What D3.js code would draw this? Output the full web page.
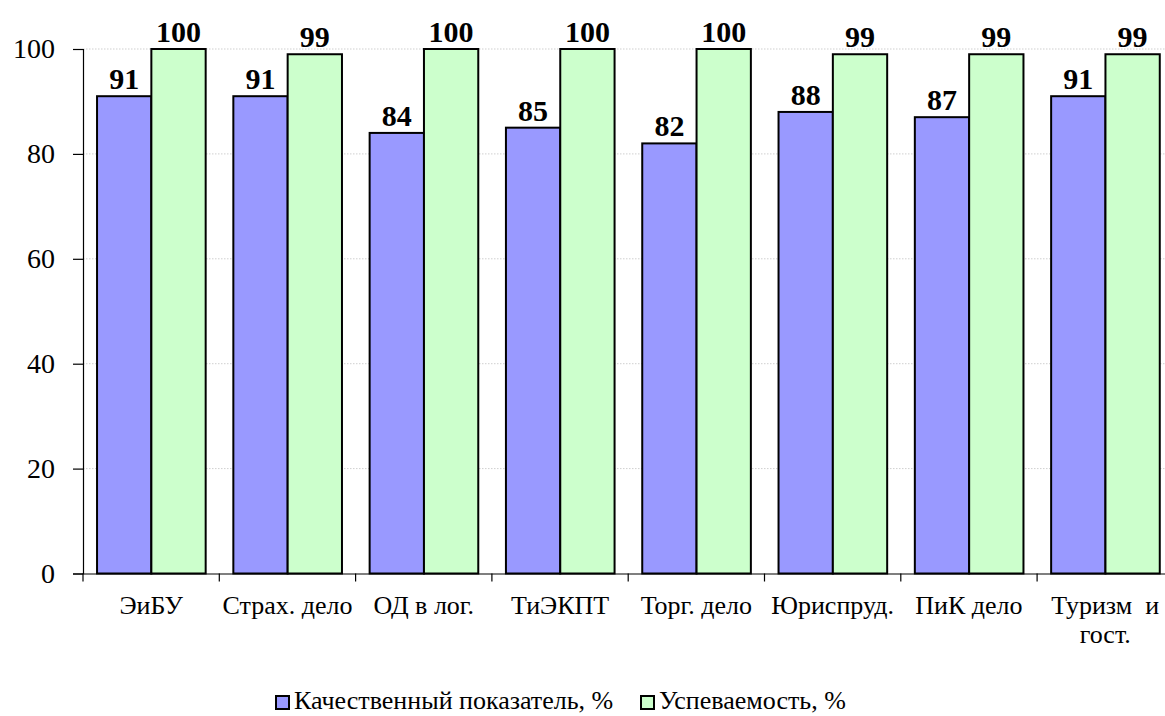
<!DOCTYPE html>
<html>
<head>
<meta charset="utf-8">
<script src="https://cdn.jsdelivr.net/npm/d3@7"></script>
<style>
  html, body { margin: 0; padding: 0; background: #fff; }
  svg { display: block; }
  text { font-family: "Liberation Serif", "Times New Roman", serif; }
</style>
</head>
<body>
<svg id="chart" width="1165" height="716"></svg>
<script>
const categories = ["ЭиБУ", "Страх. дело", "ОД в лог.", "ТиЭКПТ", "Торг. дело", "Юриспруд.", "ПиК дело", "Туризм  и\nгост."];
const seriesNames = ["Качественный показатель, %", "Успеваемость, %"];
const quality = [91, 91, 84, 85, 82, 88, 87, 91];
const progress = [100, 99, 100, 100, 100, 99, 99, 99];
const yTicks = [0, 20, 40, 60, 80, 100];
const colors = ["#9999FF", "#CCFFCC"];

const svg = d3.select("#chart");
const mLeft = 83, mBottom = 573.5, mTop = 49, groupW = 136.3;
const x = d3.scaleBand().domain(categories).range([mLeft, mLeft + groupW * categories.length]).padding(0);
const xs = d3.scaleBand().domain([0, 1]).range([x.bandwidth() * 0.103, x.bandwidth() * 0.9]).padding(0);
const y = d3.scaleLinear().domain([0, 100]).range([mBottom, mTop]);

// gridlines
svg.append("g").selectAll("line").data(yTicks.filter(d => d > 0)).join("line")
  .attr("x1", mLeft).attr("x2", mLeft + groupW * categories.length)
  .attr("y1", d => y(d)).attr("y2", d => y(d))
  .attr("stroke", "#cfcfcf").attr("stroke-width", 1).attr("stroke-dasharray", "1.5,1.5");

// y axis
const yAxis = svg.append("g").attr("transform", `translate(${mLeft},0)`)
  .call(d3.axisLeft(y).tickValues(yTicks).tickSize(10).tickPadding(18));
yAxis.select(".domain").attr("stroke", "#000").attr("stroke-width", 1.2);
yAxis.selectAll(".tick line").attr("stroke", "#000").attr("stroke-width", 1.2);
yAxis.selectAll(".tick text").attr("font-size", 28).attr("fill", "#000")
  .attr("font-family", "Liberation Serif, serif");

// bars
const data = categories.map((c, i) => ({ c, vals: [quality[i], progress[i]] }));
const groups = svg.append("g").selectAll("g").data(data).join("g")
  .attr("transform", d => `translate(${x(d.c)},0)`);
groups.selectAll("rect").data(d => d.vals.map((v, k) => ({ v, k }))).join("rect")
  .attr("x", d => xs(d.k)).attr("width", xs.bandwidth())
  .attr("y", d => y(d.v)).attr("height", d => mBottom - y(d.v))
  .attr("fill", d => colors[d.k]).attr("stroke", "#000").attr("stroke-width", 2);
groups.selectAll("text.val").data(d => d.vals.map((v, k) => ({ v, k }))).join("text")
  .attr("class", "val")
  .attr("x", d => xs(d.k) + xs.bandwidth() / 2)
  .attr("y", d => y(d.v) - 7)
  .attr("text-anchor", "middle").attr("font-size", 30).attr("font-weight", "bold")
  .text(d => d.v);

// x axis
const xAxis = svg.append("g").attr("transform", `translate(0,${mBottom})`)
  .call(d3.axisBottom(x).tickSize(0).tickFormat(""));
xAxis.select(".domain").attr("stroke", "#000").attr("stroke-width", 1.2);
svg.append("g").selectAll("line").data(d3.range(categories.length + 1)).join("line")
  .attr("x1", i => mLeft + i * x.step()).attr("x2", i => mLeft + i * x.step())
  .attr("y1", mBottom).attr("y2", mBottom + 8).attr("stroke", "#000").attr("stroke-width", 1.2);
svg.append("g").selectAll("text").data(categories).join("text")
  .attr("text-anchor", "middle").attr("font-size", 26)
  .attr("transform", d => `translate(${x(d) + x.bandwidth() / 2},${mBottom + 40})`)
  .each(function(d) {
    const lines = d.split("\n");
    d3.select(this).selectAll("tspan").data(lines).join("tspan")
      .attr("x", 0).attr("dy", (l, i) => i === 0 ? 0 : 29)
      .style("white-space", "pre").text(l => l);
  });

// legend
const legend = svg.append("g");
const legX = [276, 641];
seriesNames.forEach((n, i) => {
  legend.append("rect").attr("x", legX[i]).attr("y", 696).attr("width", 13).attr("height", 13)
    .attr("fill", colors[i]).attr("stroke", "#000").attr("stroke-width", 2);
  legend.append("text").attr("x", legX[i] + 18).attr("y", 709).attr("font-size", 26).text(n);
});
</script>
</body>
</html>
